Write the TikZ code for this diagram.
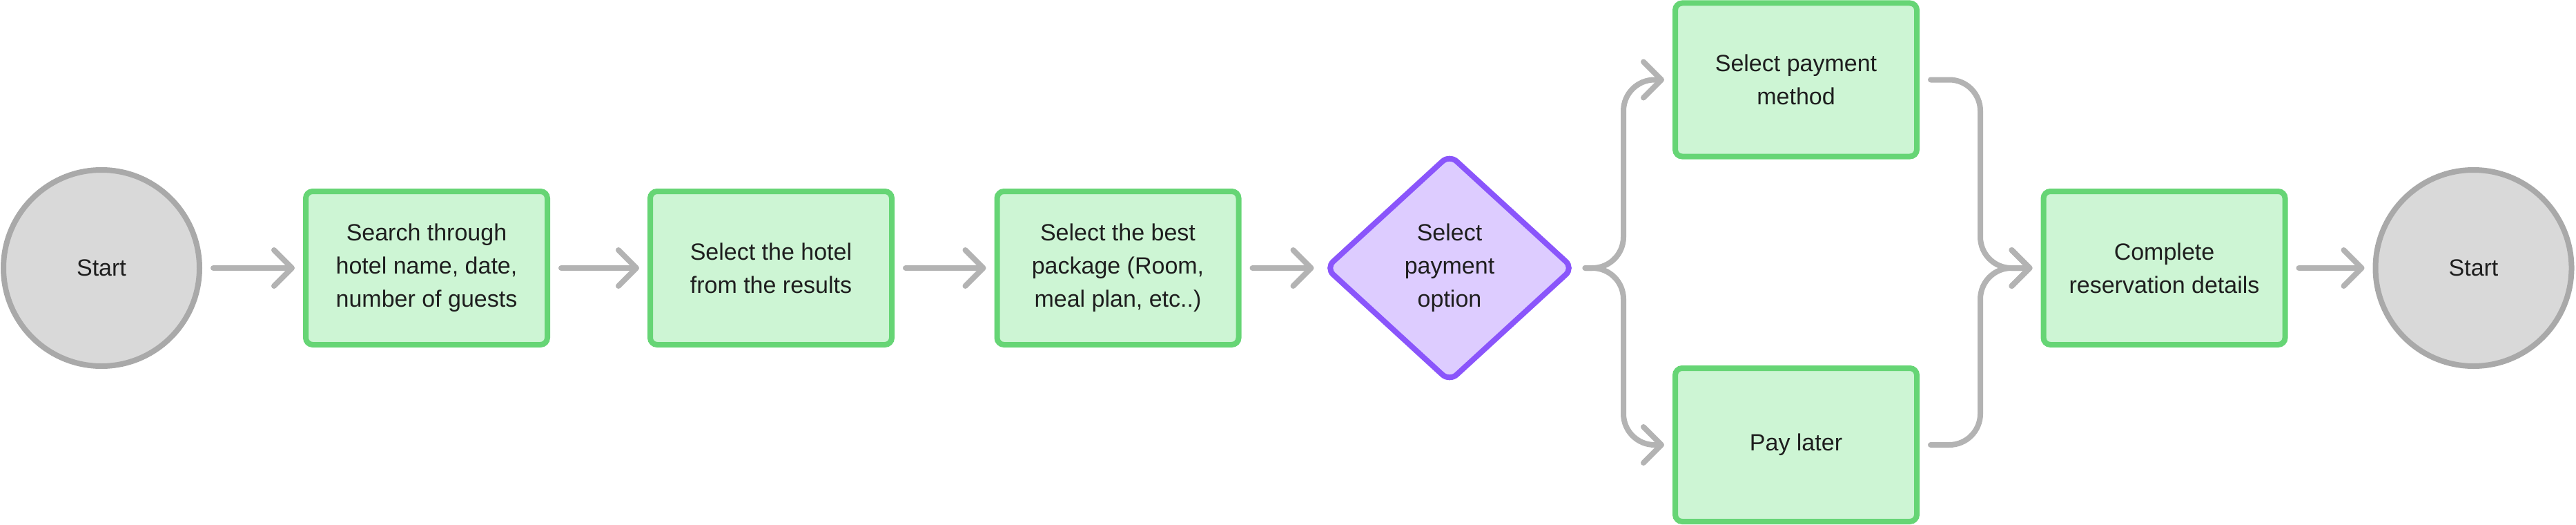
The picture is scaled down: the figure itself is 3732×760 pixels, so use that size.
\documentclass[tikz,border=0pt]{standalone}
\usepackage{fontspec}
\setmainfont{Liberation Sans}
\usetikzlibrary{arrows.meta,shapes.geometric}
\definecolor{boxfill}{HTML}{CDF5D4}
\definecolor{boxline}{HTML}{66D575}
\definecolor{circfill}{HTML}{D9D9D9}
\definecolor{circline}{HTML}{A9A9A9}
\definecolor{dfill}{HTML}{DDCCFF}
\definecolor{dline}{HTML}{8A55FB}
\definecolor{conncol}{HTML}{B3B3B3}
\definecolor{txt}{HTML}{1E1E1E}
\begin{document}
\begin{tikzpicture}[x=1pt,y=-1pt,
  every node/.style={font=\fontsize{34}{48}\selectfont, text=txt, align=center},
  stepbox/.style={draw=boxline, fill=boxfill, line width=8pt, rounded corners=10pt, minimum width=350pt, minimum height=222pt, inner sep=0pt},
  term/.style={circle, draw=circline, fill=circfill, line width=8pt, minimum size=284pt, inner sep=0pt},
  decision/.style={diamond, draw=dline, fill=dfill, line width=8pt, rounded corners=14pt, minimum width=361pt, minimum height=331pt, inner sep=0pt},
  conn/.style={draw=conncol, line width=8pt, line cap=round, line join=round, -{Straight Barb[length=26pt,width=52pt,round]}, shorten <=16pt, shorten >=12pt}
]
\useasboundingbox (0,0) rectangle (3732,760);
\node[term] (s) at (147,388) {Start};
\node[stepbox] (b1) at (618,388) {Search through\\hotel name, date,\\number of guests};
\node[stepbox] (b2) at (1117,388) {Select the hotel\\from the results};
\node[stepbox] (b3) at (1619.5,388) {Select the best\\package (Room,\\meal plan, etc..)};
\node[decision] (d) at (2100,388) {Select\\payment\\option};
\node[stepbox] (pm) at (2602,115.5) {Select payment\\method};
\node[stepbox] (pl) at (2602,644) {Pay later};
\node[stepbox] (c) at (3135.5,388) {Complete\\reservation details};
\node[term] (e) at (3583.5,388) {Start};
\coordinate (split) at (2352,388);
\coordinate (merge) at (2869,388);
\draw[conn] (s) -- (b1);
\draw[conn] (b1) -- (b2);
\draw[conn] (b2) -- (b3);
\draw[conn] (b3) -- (d);
\draw[conn, shorten <=12pt, rounded corners=45pt] (d.east) -- (split) |- (pm.west);
\draw[conn, shorten <=12pt, rounded corners=45pt] (d.east) -- (split) |- (pl.west);
\draw[conn, rounded corners=45pt] (pm.east) -| (merge) -- (c.west);
\draw[conn, rounded corners=45pt] (pl.east) -| (merge) -- (c.west);
\draw[conn] (c) -- (e);
\end{tikzpicture}
\end{document}
